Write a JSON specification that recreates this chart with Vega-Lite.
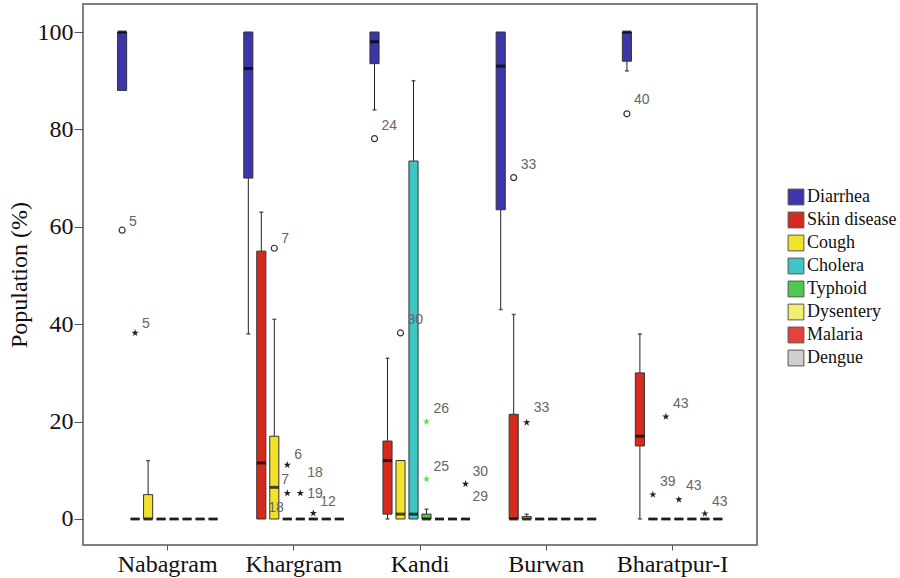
{
  "$schema": "https://vega.github.io/schema/vega-lite/v6.json",
  "width": 674,
  "height": 541,
  "autosize": "none",
  "padding": {"left": 83, "top": 4, "right": 143, "bottom": 33},
  "background": "white",
  "config": {
    "view": {"stroke": "#808080", "strokeWidth": 2},
    "axis": {"grid": false, "domain": false, "labelFont": "Liberation Serif", "titleFont": "Liberation Serif", "labelColor": "#111", "titleColor": "#111", "tickColor": "#555"}
  },
  "datasets": {
    "boxes": [
      {"region": "Nabagram", "disease": "Diarrhea", "lo": 88, "q1": 88, "med": 100, "q3": 100, "hi": 100},
      {"region": "Nabagram", "disease": "Skin disease", "lo": 0, "q1": 0, "med": 0, "q3": 0, "hi": 0},
      {"region": "Nabagram", "disease": "Cough", "lo": 0, "q1": 0, "med": 0, "q3": 5, "hi": 12},
      {"region": "Nabagram", "disease": "Cholera", "lo": 0, "q1": 0, "med": 0, "q3": 0, "hi": 0},
      {"region": "Nabagram", "disease": "Typhoid", "lo": 0, "q1": 0, "med": 0, "q3": 0, "hi": 0},
      {"region": "Nabagram", "disease": "Dysentery", "lo": 0, "q1": 0, "med": 0, "q3": 0, "hi": 0},
      {"region": "Nabagram", "disease": "Malaria", "lo": 0, "q1": 0, "med": 0, "q3": 0, "hi": 0},
      {"region": "Nabagram", "disease": "Dengue", "lo": 0, "q1": 0, "med": 0, "q3": 0, "hi": 0},
      {"region": "Khargram", "disease": "Diarrhea", "lo": 38, "q1": 70, "med": 92.5, "q3": 100, "hi": 100},
      {"region": "Khargram", "disease": "Skin disease", "lo": 0, "q1": 0, "med": 11.5, "q3": 55, "hi": 63},
      {"region": "Khargram", "disease": "Cough", "lo": 0, "q1": 0, "med": 6.5, "q3": 17, "hi": 41},
      {"region": "Khargram", "disease": "Cholera", "lo": 0, "q1": 0, "med": 0, "q3": 0, "hi": 0},
      {"region": "Khargram", "disease": "Typhoid", "lo": 0, "q1": 0, "med": 0, "q3": 0, "hi": 0},
      {"region": "Khargram", "disease": "Dysentery", "lo": 0, "q1": 0, "med": 0, "q3": 0, "hi": 0},
      {"region": "Khargram", "disease": "Malaria", "lo": 0, "q1": 0, "med": 0, "q3": 0, "hi": 0},
      {"region": "Khargram", "disease": "Dengue", "lo": 0, "q1": 0, "med": 0, "q3": 0, "hi": 0},
      {"region": "Kandi", "disease": "Diarrhea", "lo": 84, "q1": 93.5, "med": 98, "q3": 100, "hi": 100},
      {"region": "Kandi", "disease": "Skin disease", "lo": 0, "q1": 1, "med": 12, "q3": 16, "hi": 33},
      {"region": "Kandi", "disease": "Cough", "lo": 0, "q1": 0, "med": 1, "q3": 12, "hi": 12},
      {"region": "Kandi", "disease": "Cholera", "lo": 0, "q1": 0, "med": 1, "q3": 73.5, "hi": 90},
      {"region": "Kandi", "disease": "Typhoid", "lo": 0, "q1": 0, "med": 0, "q3": 1, "hi": 2},
      {"region": "Kandi", "disease": "Dysentery", "lo": 0, "q1": 0, "med": 0, "q3": 0, "hi": 0},
      {"region": "Kandi", "disease": "Malaria", "lo": 0, "q1": 0, "med": 0, "q3": 0, "hi": 0},
      {"region": "Kandi", "disease": "Dengue", "lo": 0, "q1": 0, "med": 0, "q3": 0, "hi": 0},
      {"region": "Burwan", "disease": "Diarrhea", "lo": 43, "q1": 63.5, "med": 93, "q3": 100, "hi": 100},
      {"region": "Burwan", "disease": "Skin disease", "lo": 0, "q1": 0, "med": 0, "q3": 21.5, "hi": 42},
      {"region": "Burwan", "disease": "Cough", "lo": 0, "q1": 0, "med": 0, "q3": 0.5, "hi": 1},
      {"region": "Burwan", "disease": "Cholera", "lo": 0, "q1": 0, "med": 0, "q3": 0, "hi": 0},
      {"region": "Burwan", "disease": "Typhoid", "lo": 0, "q1": 0, "med": 0, "q3": 0, "hi": 0},
      {"region": "Burwan", "disease": "Dysentery", "lo": 0, "q1": 0, "med": 0, "q3": 0, "hi": 0},
      {"region": "Burwan", "disease": "Malaria", "lo": 0, "q1": 0, "med": 0, "q3": 0, "hi": 0},
      {"region": "Burwan", "disease": "Dengue", "lo": 0, "q1": 0, "med": 0, "q3": 0, "hi": 0},
      {"region": "Bharatpur-I", "disease": "Diarrhea", "lo": 92, "q1": 94, "med": 100, "q3": 100, "hi": 100},
      {"region": "Bharatpur-I", "disease": "Skin disease", "lo": 0, "q1": 15, "med": 17, "q3": 30, "hi": 38},
      {"region": "Bharatpur-I", "disease": "Cough", "lo": 0, "q1": 0, "med": 0, "q3": 0, "hi": 0},
      {"region": "Bharatpur-I", "disease": "Cholera", "lo": 0, "q1": 0, "med": 0, "q3": 0, "hi": 0},
      {"region": "Bharatpur-I", "disease": "Typhoid", "lo": 0, "q1": 0, "med": 0, "q3": 0, "hi": 0},
      {"region": "Bharatpur-I", "disease": "Dysentery", "lo": 0, "q1": 0, "med": 0, "q3": 0, "hi": 0},
      {"region": "Bharatpur-I", "disease": "Malaria", "lo": 0, "q1": 0, "med": 0, "q3": 0, "hi": 0},
      {"region": "Bharatpur-I", "disease": "Dengue", "lo": 0, "q1": 0, "med": 0, "q3": 0, "hi": 0}
    ],
    "outliers": [
      {"region": "Nabagram", "disease": "Diarrhea", "value": 59.3, "kind": "circle"},
      {"region": "Nabagram", "disease": "Skin disease", "value": 38.2, "kind": "star"},
      {"region": "Khargram", "disease": "Cough", "value": 55.6, "kind": "circle"},
      {"region": "Khargram", "disease": "Cholera", "value": 11.1, "kind": "star"},
      {"region": "Khargram", "disease": "Cholera", "value": 5.3, "kind": "star"},
      {"region": "Khargram", "disease": "Typhoid", "value": 5.3, "kind": "star"},
      {"region": "Khargram", "disease": "Dysentery", "value": 1.2, "kind": "star"},
      {"region": "Kandi", "disease": "Diarrhea", "value": 78.1, "kind": "circle"},
      {"region": "Kandi", "disease": "Cough", "value": 38.2, "kind": "circle"},
      {"region": "Kandi", "disease": "Typhoid", "value": 20, "kind": "star"},
      {"region": "Kandi", "disease": "Typhoid", "value": 8.2, "kind": "star"},
      {"region": "Kandi", "disease": "Dengue", "value": 7.2, "kind": "star"},
      {"region": "Burwan", "disease": "Skin disease", "value": 70.1, "kind": "circle"},
      {"region": "Burwan", "disease": "Cough", "value": 19.8, "kind": "star"},
      {"region": "Bharatpur-I", "disease": "Diarrhea", "value": 83.2, "kind": "circle"},
      {"region": "Bharatpur-I", "disease": "Cholera", "value": 21, "kind": "star"},
      {"region": "Bharatpur-I", "disease": "Cough", "value": 5, "kind": "star"},
      {"region": "Bharatpur-I", "disease": "Typhoid", "value": 4, "kind": "star"},
      {"region": "Bharatpur-I", "disease": "Malaria", "value": 1.1, "kind": "star"}
    ],
    "labels": [
      {"region": "Nabagram", "disease": "Diarrhea", "value": 61, "text": "5"},
      {"region": "Nabagram", "disease": "Skin disease", "value": 40, "text": "5"},
      {"region": "Khargram", "disease": "Cough", "value": 57.5, "text": "7"},
      {"region": "Khargram", "disease": "Cholera", "value": 13.2, "text": "6"},
      {"region": "Khargram", "disease": "Cough", "value": 8, "text": "7"},
      {"region": "Khargram", "disease": "Skin disease", "value": 2.3, "text": "18"},
      {"region": "Khargram", "disease": "Typhoid", "value": 5.1, "text": "19"},
      {"region": "Khargram", "disease": "Typhoid", "value": 9.4, "text": "18"},
      {"region": "Khargram", "disease": "Dysentery", "value": 3.5, "text": "12"},
      {"region": "Kandi", "disease": "Diarrhea", "value": 80.7, "text": "24"},
      {"region": "Kandi", "disease": "Cough", "value": 40.9, "text": "30"},
      {"region": "Kandi", "disease": "Typhoid", "value": 22.6, "text": "26"},
      {"region": "Kandi", "disease": "Typhoid", "value": 10.7, "text": "25"},
      {"region": "Kandi", "disease": "Dengue", "value": 9.7, "text": "30"},
      {"region": "Kandi", "disease": "Dengue", "value": 4.5, "text": "29"},
      {"region": "Burwan", "disease": "Skin disease", "value": 72.7, "text": "33"},
      {"region": "Burwan", "disease": "Cough", "value": 22.8, "text": "33"},
      {"region": "Bharatpur-I", "disease": "Diarrhea", "value": 86, "text": "40"},
      {"region": "Bharatpur-I", "disease": "Cholera", "value": 23.6, "text": "43"},
      {"region": "Bharatpur-I", "disease": "Cough", "value": 7.6, "text": "39"},
      {"region": "Bharatpur-I", "disease": "Typhoid", "value": 6.8, "text": "43"},
      {"region": "Bharatpur-I", "disease": "Malaria", "value": 3.5, "text": "43"}
    ]
  },
  "encoding": {
    "x": {
      "field": "region", "type": "nominal",
      "scale": {"domain": ["Nabagram", "Khargram", "Kandi", "Burwan", "Bharatpur-I"], "paddingInner": 0.176, "paddingOuter": 0.2585},
      "axis": {"title": null, "labelAngle": 0, "labelFontSize": 24, "labelPadding": 2, "tickSize": 5, "domain": false}
    },
    "xOffset": {
      "field": "disease", "type": "nominal",
      "scale": {"domain": ["Diarrhea", "Skin disease", "Cough", "Cholera", "Typhoid", "Dysentery", "Malaria", "Dengue"], "paddingInner": 0.3, "paddingOuter": 0.15}
    }
  },
  "layer": [
    {
      "data": {"name": "boxes"},
      "mark": {"type": "rule", "color": "#222", "strokeWidth": 1},
      "encoding": {
        "y": {"field": "lo", "type": "quantitative", "scale": {"domain": [-5.34, 105.75], "nice": false, "zero": false},
              "axis": {"values": [0, 20, 40, 60, 80, 100], "title": "Population (%)", "titleFontSize": 24, "titleFontWeight": "normal", "labelFontSize": 24, "tickSize": 9, "labelPadding": 1, "titlePadding": 6, "domain": false}},
        "y2": {"field": "q1"}
      }
    },
    {
      "data": {"name": "boxes"},
      "mark": {"type": "rule", "color": "#222", "strokeWidth": 1},
      "encoding": {
        "y": {"field": "q3", "type": "quantitative"},
        "y2": {"field": "hi"}
      }
    },
    {
      "data": {"name": "boxes"},
      "transform": [{"filter": "datum.lo < datum.q1"}],
      "mark": {"type": "tick", "color": "#222", "thickness": 1.5, "size": 4, "orient": "horizontal"},
      "encoding": {"y": {"field": "lo", "type": "quantitative"}}
    },
    {
      "data": {"name": "boxes"},
      "transform": [{"filter": "datum.hi > datum.q3"}],
      "mark": {"type": "tick", "color": "#222", "thickness": 1.5, "size": 4, "orient": "horizontal"},
      "encoding": {"y": {"field": "hi", "type": "quantitative"}}
    },
    {
      "data": {"name": "boxes"},
      "mark": {"type": "bar", "stroke": "#333", "strokeWidth": 1, "opacity": 1},
      "encoding": {
        "y": {"field": "q1", "type": "quantitative"},
        "y2": {"field": "q3"},
        "color": {
          "field": "disease", "type": "nominal",
          "scale": {"domain": ["Diarrhea", "Skin disease", "Cough", "Cholera", "Typhoid", "Dysentery", "Malaria", "Dengue"],
                    "range": ["#3b36a9", "#d42b1e", "#f2e22b", "#3ec6c4", "#4ec94e", "#f2ef70", "#e8413c", "#cfcfcf"]},
          "legend": {
            "title": null, "orient": "none", "legendX": 704, "legendY": 184,
            "symbolType": "square", "symbolSize": 250, "symbolStrokeColor": "#555", "symbolStrokeWidth": 1, "symbolOpacity": 1,
            "labelFont": "Liberation Serif", "labelFontSize": 18, "labelColor": "#111", "labelOffset": 2, "rowPadding": 3, "labelLimit": 200
          }
        }
      }
    },
    {
      "data": {"name": "boxes"},
      "mark": {"type": "tick", "color": "#000", "thickness": 3, "size": 9, "orient": "horizontal"},
      "encoding": {"y": {"field": "med", "type": "quantitative"}}
    },
    {
      "data": {"name": "outliers"},
      "transform": [{"filter": "datum.kind === 'circle'"}],
      "mark": {"type": "point", "shape": "circle", "filled": false, "stroke": "#333", "strokeWidth": 1.2, "size": 36, "opacity": 1},
      "encoding": {"y": {"field": "value", "type": "quantitative"}}
    },
    {
      "data": {"name": "outliers"},
      "transform": [{"filter": "datum.kind === 'star'"}],
      "mark": {"type": "point", "shape": "M0,-1L0.2245,-0.309L0.951,-0.309L0.363,0.118L0.588,0.809L0,0.382L-0.588,0.809L-0.363,0.118L-0.951,-0.309L-0.2245,-0.309Z", "filled": true, "size": 60, "opacity": 1},
      "encoding": {
        "y": {"field": "value", "type": "quantitative"},
        "color": {"condition": {"test": "datum.region === 'Kandi' && datum.disease === 'Typhoid'", "value": "#66dd55"}, "value": "#222"}
      }
    },
    {
      "data": {"name": "labels"},
      "mark": {"type": "text", "align": "left", "baseline": "middle", "dx": 7, "font": "Liberation Sans", "fontSize": 14, "color": "#666"},
      "encoding": {
        "y": {"field": "value", "type": "quantitative"},
        "text": {"field": "text"}
      }
    }
  ]
}
